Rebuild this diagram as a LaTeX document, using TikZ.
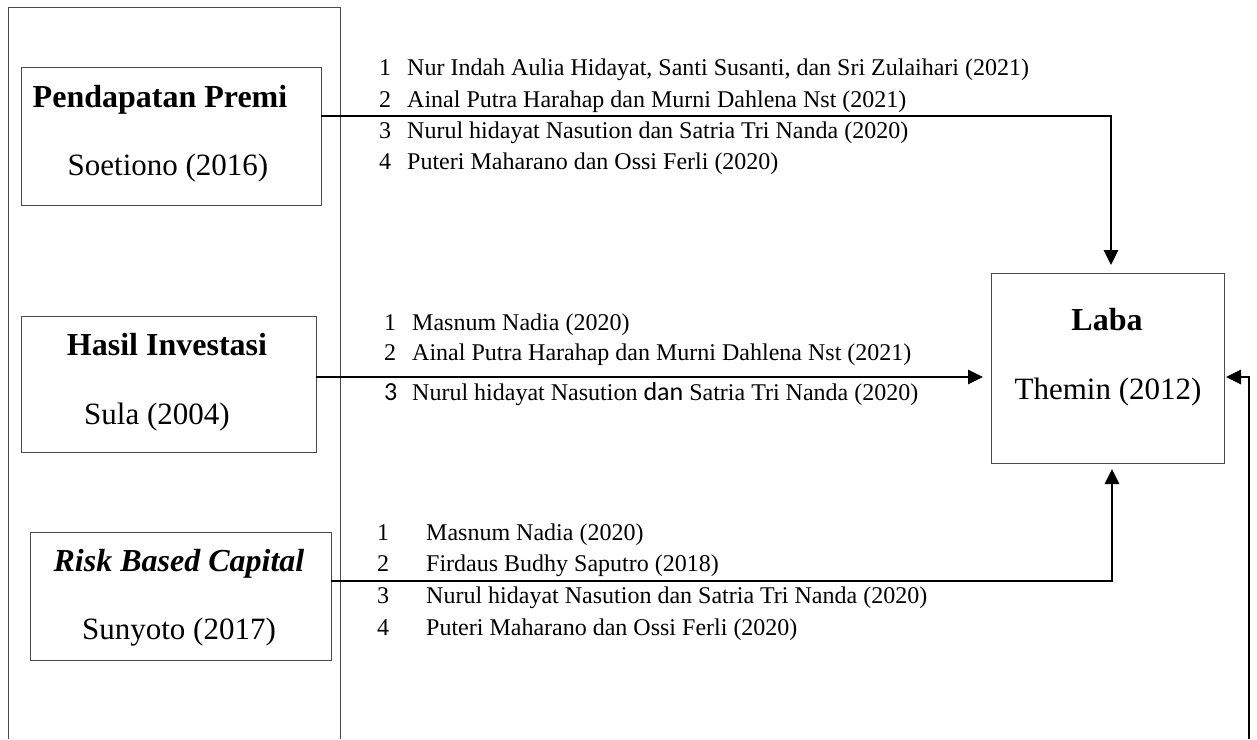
\documentclass[tikz,border=0pt]{standalone}
\usepackage{fontspec}
\setmainfont{Liberation Serif}
\newfontfamily\calib{Carlito}
\usetikzlibrary{arrows.meta}
\definecolor{bordergray}{HTML}{4A4A4A}
\tikzset{
  boxnode/.style={draw=bordergray, line width=0.9pt, inner sep=0pt, rectangle},
  conn/.style={line width=2.8pt, black, -{Triangle[length=15pt,width=14pt]}},
  ttl/.style={anchor=base, inner sep=0pt, font=\fontsize{32}{36}\selectfont\bfseries},
  subt/.style={anchor=base, inner sep=0pt, font=\fontsize{31}{36}\selectfont},
  lst/.style={anchor=base west, inner sep=0pt, font=\fontsize{24}{28}\selectfont},
}
\begin{document}
\begin{tikzpicture}[x=1pt,y=-1pt]
\useasboundingbox (0,0) rectangle (1257,739);
% outer open frame
\draw[draw=bordergray, line width=0.9pt] (8,739) -- (8,7) -- (340,7) -- (340,739);

% boxes
\node[boxnode, minimum width=300pt, minimum height=138pt] (P) at (171,136) {};
\node[boxnode, minimum width=295pt, minimum height=136pt] (H) at (168.5,384) {};
\node[boxnode, minimum width=301pt, minimum height=128pt] (R) at (180.5,596) {};
\node[boxnode, minimum width=233pt, minimum height=190pt] (L) at (1107.5,368) {};

% box texts
\node[ttl] (Pt) at (160,107) {Pendapatan Premi};
\node[subt] (Ps) at (168,175) {Soetiono (2016)};
\node[ttl] (Ht) at (167,355) {Hasil Investasi};
\node[subt] (Hs) at (157,424) {Sula (2004)};
\node[ttl, font=\fontsize{32}{36}\selectfont\bfseries\itshape] (Rt) at (179,571) {Risk Based Capital};
\node[subt] (Rs) at (179,639) {Sunyoto (2017)};
\node[ttl] (Lt) at (1107,330) {Laba};
\node[subt] (Ls) at (1108,399) {Themin (2012)};

% connector coordinates
\coordinate (p1) at (P.east |- 0,116);
\coordinate (p2) at (1111,265);
\coordinate (h1) at (H.east |- 0,377);
\coordinate (h2) at (983,377);
\coordinate (r1) at (R.east |- 0,581);
\coordinate (r2) at (1112,469);
\coordinate (b1) at (1249,739);
\coordinate (b2) at (1226,377);

\draw[conn] (p1) -| (p2);
\draw[conn] (h1) -- (h2);
\draw[conn] (r1) -| (r2);
\draw[conn] (b1) |- (b2);

% list 1
\node[lst] (a1n) at (379,75) {1};
\node[lst] (a1t) at (407,75) {Nur Indah Aulia Hidayat, Santi Susanti, dan Sri Zulaihari (2021)};
\node[lst] (a2n) at (379,107) {2};
\node[lst] (a2t) at (407,107) {Ainal Putra Harahap dan Murni Dahlena Nst (2021)};
\node[lst] (a3n) at (379,138) {3};
\node[lst] (a3t) at (407,138) {Nurul hidayat Nasution dan Satria Tri Nanda (2020)};
\node[lst] (a4n) at (379,169) {4};
\node[lst] (a4t) at (407,169) {Puteri Maharano dan Ossi Ferli (2020)};

% list 2
\node[lst] (b1n) at (384,330) {1};
\node[lst] (b1t) at (412,330) {Masnum Nadia (2020)};
\node[lst] (b2n) at (384,360) {2};
\node[lst] (b2t) at (412,360) {Ainal Putra Harahap dan Murni Dahlena Nst (2021)};
\node[lst, font=\fontsize{26}{30}\calib] (b3n) at (384,400) {3};
\node[lst] (b3t) at (412,400) {Nurul hidayat Nasution {\fontsize{26}{30}\calib dan} Satria Tri Nanda (2020)};

% list 3
\node[lst] (c1n) at (377,540) {1};
\node[lst] (c1t) at (426,540) {Masnum Nadia (2020)};
\node[lst] (c2n) at (377,571) {2};
\node[lst] (c2t) at (426,571) {Firdaus Budhy Saputro (2018)};
\node[lst] (c3n) at (377,603) {3};
\node[lst] (c3t) at (426,603) {Nurul hidayat Nasution dan Satria Tri Nanda (2020)};
\node[lst] (c4n) at (377,635) {4};
\node[lst] (c4t) at (426,635) {Puteri Maharano dan Ossi Ferli (2020)};
\end{tikzpicture}
\end{document}
